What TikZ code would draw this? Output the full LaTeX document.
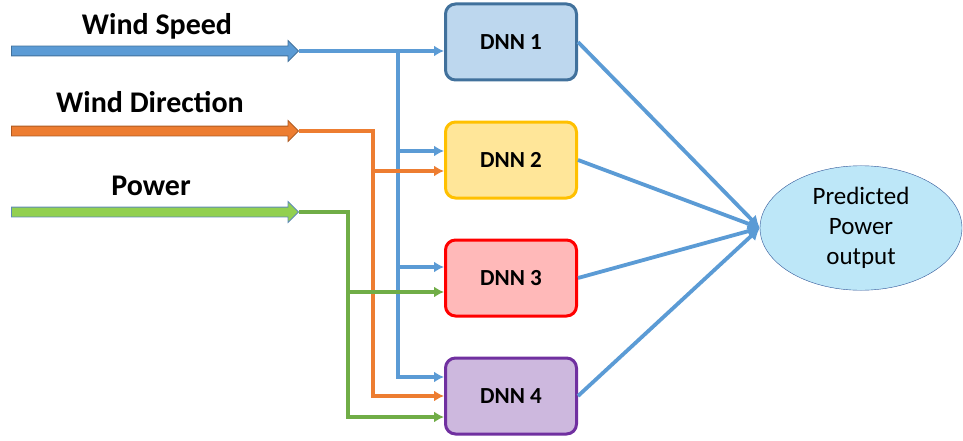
\documentclass[tikz,border=0pt]{standalone}
\usepackage{fontspec}
\setmainfont{Carlito}
\usepackage{tikz}
\usetikzlibrary{shapes, arrows.meta}
\definecolor{wsBlue}{HTML}{5B9BD5}
\definecolor{wsEdge}{HTML}{41719C}
\definecolor{wdOrange}{HTML}{ED7D31}
\definecolor{wdEdge}{HTML}{AE5A21}
\definecolor{pwGreen}{HTML}{92D050}
\definecolor{pwEdge}{HTML}{5E8AB4}
\definecolor{pwLine}{HTML}{70AD47}
\definecolor{dnnOneFill}{HTML}{BDD7EE}
\definecolor{dnnTwoFill}{HTML}{FFE699}
\definecolor{dnnTwoEdge}{HTML}{FFC000}
\definecolor{dnnThreeFill}{HTML}{FFB9B9}
\definecolor{dnnFourFill}{HTML}{CDB8DE}
\definecolor{dnnFourEdge}{HTML}{7030A0}
\definecolor{outFill}{HTML}{BDE7F8}
\definecolor{outEdge}{HTML}{2F5597}
\tikzstyle{feed} = [ single arrow, draw, line width=0.8pt, inner xsep=0pt, inner ysep=4.5pt, minimum height=287pt, single arrow head extend=5.5pt ]
\tikzstyle{inlabel} = [ font=\fontsize{30}{33}\selectfont\bfseries, anchor=base ]
\tikzstyle{block} = [ rectangle, draw, line width=3pt, minimum width=131pt, minimum height=76pt, rounded corners=10pt, font=\fontsize{23}{26}\selectfont\bfseries ]
\tikzstyle{line} = [ draw, line width=3.3pt, -{Latex[length=10pt, width=11pt]} ]

\begin{document}
\begin{tikzpicture}[x=1pt, y=1pt, node distance=118pt, auto]
\useasboundingbox (0,0) rectangle (963,440);

% inputs
\node [feed, fill=wsBlue, draw=wsEdge] (wsIn) at (152.5,389) {};
\node [feed, fill=wdOrange, draw=wdEdge] (wdIn) at (152.5,309) {};
\node [feed, fill=pwGreen, draw=pwEdge] (pwIn) at (152.5,228) {};
\node [inlabel] (wsLabel) at (157,405) {Wind Speed};
\node [inlabel] (wdLabel) at (150,327) {Wind Direction};
\node [inlabel] (pwLabel) at (151,245) {Power};

% networks
\node [block, fill=dnnOneFill, draw=wsEdge] (dnn1) at (511,398) {DNN 1};
\node [block, fill=dnnTwoFill, draw=dnnTwoEdge, below of=dnn1] (dnn2) {DNN 2};
\node [block, fill=dnnThreeFill, draw=red, below of=dnn2] (dnn3) {DNN 3};
\node [block, fill=dnnFourFill, draw=dnnFourEdge, below of=dnn3] (dnn4) {DNN 4};
\node [ellipse, draw=outEdge, fill=outFill, minimum width=202pt, minimum height=111pt, align=center, font=\fontsize{25}{30}\selectfont] (out) at (861,212) {Predicted\\Power\\output};

% wind speed to every network
\coordinate (wsBus) at (398,389);
\path [line, wsBlue] (wsIn.tip) -- (wsIn.tip -| dnn1.west);
\path [line, wsBlue] (wsBus) |- ([yshift=9pt]dnn2.west);
\path [line, wsBlue] (wsBus) |- ([yshift=11pt]dnn3.west);
\path [line, wsBlue] (wsBus) |- ([yshift=19pt]dnn4.west);

% wind direction
\coordinate (wdBus) at (373,309);
\path [line, wdOrange] (wdIn.tip) -- (wdBus) |- ([yshift=-11pt]dnn2.west);
\path [line, wdOrange] (wdBus) |- (dnn4.west);

% power
\coordinate (pwBus) at (348,228);
\path [line, pwLine] (pwIn.tip) -- (pwBus) |- ([yshift=-14pt]dnn3.west);
\path [line, pwLine] (pwBus) |- ([yshift=-21pt]dnn4.west);

% outputs
\path [line, wsBlue, line width=3.8pt, -{Latex[length=12pt, width=13pt]}] (dnn1.east) -- (out.west);
\path [line, wsBlue, line width=3.8pt, -{Latex[length=12pt, width=13pt]}] (dnn2.east) -- (out.west);
\path [line, wsBlue, line width=3.8pt, -{Latex[length=12pt, width=13pt]}] (dnn3.east) -- (out.west);
\path [line, wsBlue, line width=3.8pt, -{Latex[length=12pt, width=13pt]}] (dnn4.east) -- (out.west);
\end{tikzpicture}
\end{document}
